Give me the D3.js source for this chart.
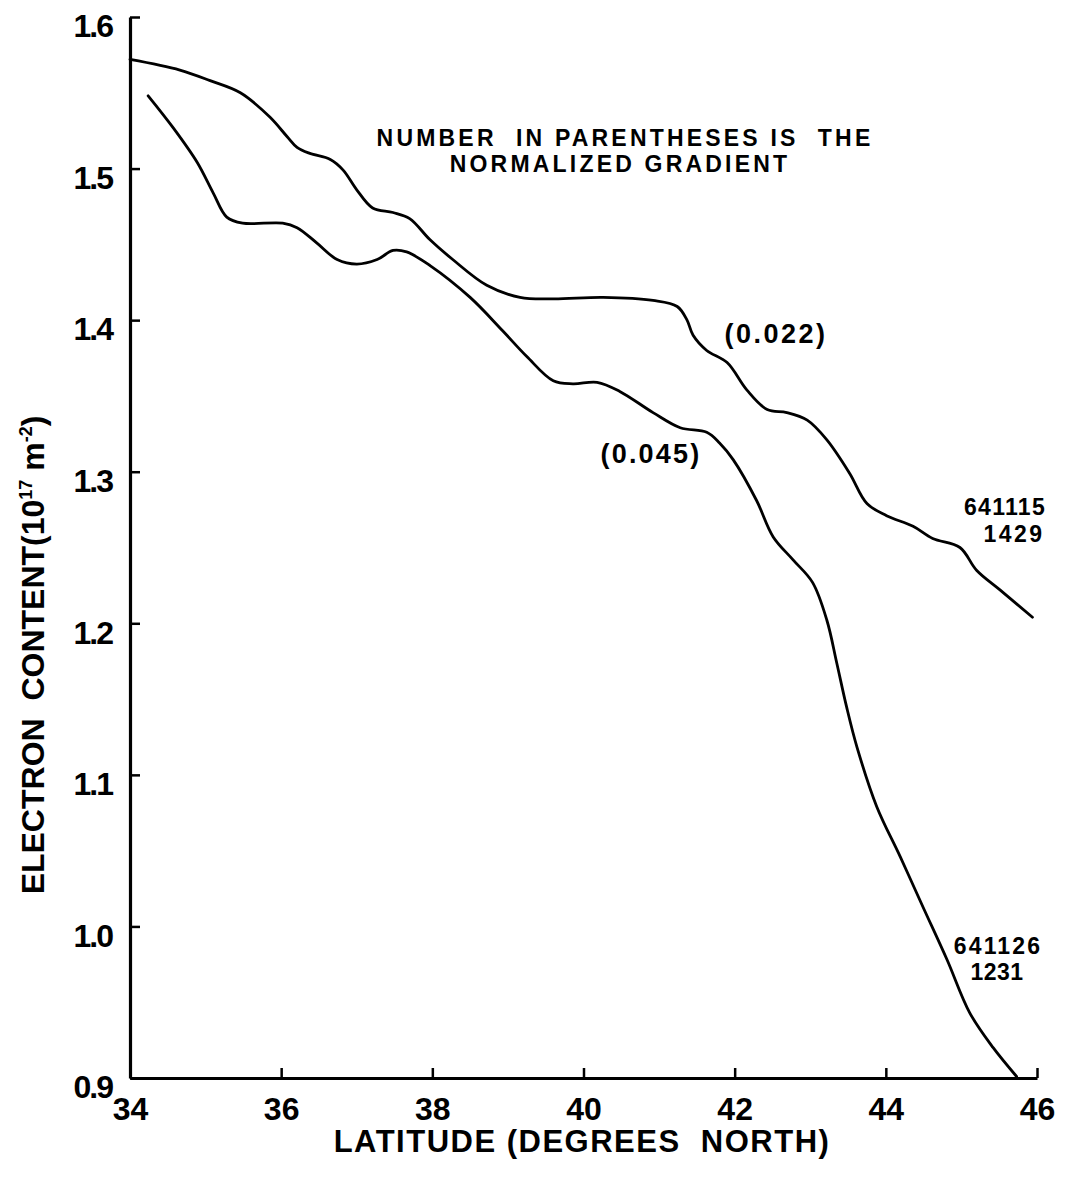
<!DOCTYPE html>
<html>
<head>
<meta charset="utf-8">
<script src="https://cdn.jsdelivr.net/npm/d3@7"></script>
<style>
  html, body { margin: 0; padding: 0; background: #fff; }
  svg { display: block; }
  text { font-family: "Liberation Sans", Arial, sans-serif; font-weight: bold; fill: #000; }
</style>
</head>
<body>
<svg id="chart" width="1066" height="1180"></svg>
<script>
// Latitude ticks (degrees north) and electron-content ticks (10^17 m^-2)
const latTicks = [34, 36, 38, 40, 42, 44, 46];
const ecTicks = [0.9, 1.0, 1.1, 1.2, 1.3, 1.4, 1.5, 1.6];

// Pass 641115 1429 — latitude / electron content
const lat641115 = [34.00, 34.66, 35.06, 35.46, 35.85, 36.08, 36.21, 36.38, 36.65, 36.82,
  37.00, 37.21, 37.48, 37.70, 37.97, 38.27, 38.72, 39.16, 39.60, 40.26,
  40.92, 41.24, 41.37, 41.45, 41.63, 41.90, 42.16, 42.43, 42.69, 42.96,
  43.22, 43.52, 43.75, 44.01, 44.36, 44.62, 44.98, 45.20, 45.51, 45.94];
const ec641115 = [1.572, 1.565, 1.558, 1.550, 1.534, 1.521, 1.514, 1.510, 1.506, 1.499,
  1.486, 1.474, 1.471, 1.467, 1.453, 1.440, 1.423, 1.415, 1.414, 1.415,
  1.413, 1.409, 1.400, 1.390, 1.380, 1.372, 1.354, 1.341, 1.339, 1.334,
  1.321, 1.299, 1.279, 1.271, 1.264, 1.256, 1.250, 1.235, 1.222, 1.204];

// Pass 641126 1231 — latitude / electron content
const lat641126 = [34.24, 34.57, 34.89, 35.10, 35.28, 35.49, 36.02, 36.21, 36.47, 36.74,
  37.00, 37.27, 37.48, 37.66, 37.97, 38.50, 38.93, 39.25, 39.60, 39.86,
  40.18, 40.48, 40.92, 41.28, 41.63, 41.80, 41.98, 42.29, 42.51, 42.77,
  43.03, 43.22, 43.35, 43.48, 43.62, 43.88, 44.19, 44.49, 44.81, 45.11,
  45.42, 45.73];
const ec641126 = [1.548, 1.527, 1.504, 1.484, 1.468, 1.464, 1.464, 1.461, 1.451, 1.440,
  1.437, 1.440, 1.446, 1.445, 1.436, 1.415, 1.393, 1.376, 1.360, 1.358,
  1.359, 1.353, 1.339, 1.329, 1.326, 1.319, 1.308, 1.281, 1.257, 1.242,
  1.227, 1.202, 1.174, 1.145, 1.118, 1.079, 1.046, 1.013, 0.978, 0.943,
  0.920, 0.901];

const svg = d3.select("#chart");

const x = d3.scaleLinear().domain([34, 46]).range([130, 1037]);
const y = d3.scaleLinear().domain([0.9, 1.6]).range([1078, 17]);

// Axes: ticks point inward, heavy frame lines on left and bottom
const xAxis = svg.append("g")
  .attr("transform", `translate(0,${y(0.9)})`)
  .call(d3.axisBottom(x).tickValues(latTicks).tickFormat(d3.format("d"))
    .tickSizeInner(-10).tickSizeOuter(0).tickPadding(19));
const yAxis = svg.append("g")
  .attr("transform", `translate(${x(34)},0)`)
  .call(d3.axisLeft(y).tickValues(ecTicks).tickFormat(d3.format(".1f"))
    .tickSizeInner(-10).tickSizeOuter(0).tickPadding(18));

[xAxis, yAxis].forEach(g => {
  g.select(".domain").attr("stroke", "#000").attr("stroke-width", 3.2);
  g.selectAll(".tick line").attr("stroke", "#000").attr("stroke-width", 2.5);
  g.selectAll(".tick text").style("font-size", "32px").attr("fill", "#000");
});
yAxis.selectAll(".tick text").attr("dy", "0.62em").style("letter-spacing", "-2px");

// Curves
const line = d3.line()
  .x(d => x(d[0]))
  .y(d => y(d[1]))
  .curve(d3.curveCatmullRom.alpha(0.5));

const series = [
  d3.zip(lat641115, ec641115),
  d3.zip(lat641126, ec641126)
];
svg.selectAll("path.series")
  .data(series)
  .enter().append("path")
  .attr("class", "series")
  .attr("d", line)
  .attr("fill", "none")
  .attr("stroke", "#000")
  .attr("stroke-width", 2.8)
  .attr("stroke-linejoin", "round")
  .attr("stroke-linecap", "round");

// Axis titles
svg.append("text")
  .attr("x", 582).attr("y", 1152)
  .attr("text-anchor", "middle")
  .style("font-size", "31px")
  .style("letter-spacing", "1.5px")
  .attr("xml:space", "preserve")
  .text("LATITUDE (DEGREES  NORTH)");

const yTitle = svg.append("text")
  .attr("transform", "translate(44,655) rotate(-90)")
  .attr("text-anchor", "middle")
  .style("font-size", "32px")
  .attr("xml:space", "preserve");
yTitle.append("tspan").text("ELECTRON  CONTENT(10");
yTitle.append("tspan").attr("dy", "-12").style("font-size", "18px").text("17");
yTitle.append("tspan").attr("dy", "12").text(" m");
yTitle.append("tspan").attr("dy", "-12").style("font-size", "18px").text("-2");
yTitle.append("tspan").attr("dy", "12").text(")");

// Note
svg.append("text")
  .attr("x", 625).attr("y", 146)
  .attr("text-anchor", "middle")
  .style("font-size", "23px")
  .style("letter-spacing", "3.2px")
  .attr("xml:space", "preserve")
  .text("NUMBER  IN PARENTHESES IS  THE");
svg.append("text")
  .attr("x", 620).attr("y", 172)
  .attr("text-anchor", "middle")
  .style("font-size", "23px")
  .style("letter-spacing", "3.2px")
  .text("NORMALIZED GRADIENT");

// Curve labels
const labels = [
  { text: "(0.022)", x: 776, y: 343, size: 27, ls: 2.5 },
  { text: "(0.045)", x: 651, y: 463, size: 27, ls: 2.2 },
  { text: "641115", x: 1005, y: 515, size: 23, ls: 1.3 },
  { text: "1429", x: 1014, y: 542, size: 23, ls: 2.5 },
  { text: "641126", x: 998, y: 954, size: 23, ls: 2.2 },
  { text: "1231", x: 997, y: 980, size: 23, ls: 0.5 }
];
svg.selectAll("text.lbl")
  .data(labels)
  .enter().append("text")
  .attr("class", "lbl")
  .attr("x", d => d.x).attr("y", d => d.y)
  .attr("text-anchor", "middle")
  .style("font-size", d => d.size + "px")
  .style("letter-spacing", d => d.ls + "px")
  .text(d => d.text);
</script>
</body>
</html>
